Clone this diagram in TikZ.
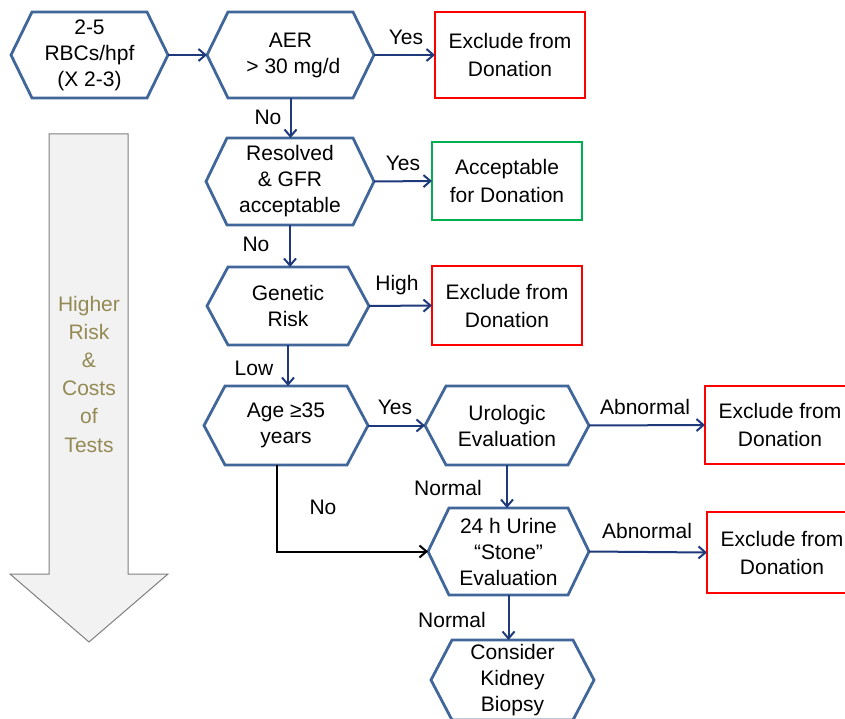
\documentclass[tikz,border=0pt]{standalone}
\usepackage{fontspec}
\setmainfont{Liberation Sans}
\usetikzlibrary{arrows.meta}
\definecolor{hexblue}{HTML}{41679A}
\definecolor{navy}{HTML}{1F3A7A}
\definecolor{boxred}{HTML}{FF0000}
\definecolor{boxgreen}{HTML}{00B050}
\definecolor{olive}{HTML}{948A54}
\definecolor{arrowfill}{HTML}{F2F2F2}
\definecolor{arrowgray}{HTML}{7F7F7F}
\newcommand\hexoutline[1]{%
  \draw[hexline] ([xshift=-21pt]#1.west) -- (#1.north west) -- (#1.north east)
    -- ([xshift=21pt]#1.east) -- (#1.south east) -- (#1.south west) -- cycle;
  \coordinate (#1-l) at ([xshift=-21pt]#1.west);
  \coordinate (#1-r) at ([xshift=21pt]#1.east);}
\tikzset{
  hexin/.style={inner sep=0pt, outer sep=0pt, align=center,
    font=\fontsize{21}{26}\selectfont},
  hexline/.style={draw=hexblue, line width=2.8pt, line join=miter},
  outbox/.style={draw=#1, line width=2.5pt, inner sep=0pt, outer sep=0pt,
    minimum width=150pt, align=center, font=\fontsize{21}{28}\selectfont},
  conn/.style={draw=navy, line width=2pt,
    -{Straight Barb[length=7pt,width=12pt]}},
  lbl/.style={inner sep=0pt, font=\fontsize{21}{26}\selectfont},
}
\begin{document}
\begin{tikzpicture}[x=1pt, y=-1pt]
\path[use as bounding box, clip] (0,0) rectangle (845,719);

% big gray arrow
\draw[fill=arrowfill, draw=arrowgray, line width=1pt]
  (49,134) -- (128,134) -- (128,574) -- (168,574) -- (89,642)
  -- (10,574) -- (49,574) -- cycle;
\node[inner sep=0pt, align=center, text=olive,
  font=\fontsize{21}{28.2}\selectfont] (risk) at (89,374)
  {Higher\\Risk\\\&\\Costs\\of\\Tests};

% hexagon nodes
\node[hexin, minimum width=115pt, minimum height=86pt] (rbc) at (89.5,55) {2-5\\RBCs/hpf\\(X 2-3)};
\hexoutline{rbc}
\node[hexin, minimum width=125pt, minimum height=86pt] (aer) at (290.5,55) {AER\\ \ > 30 mg/d};
\hexoutline{aer}
\node[hexin, minimum width=126pt, minimum height=87pt] (res) at (290,181.5) {Resolved\\\& GFR\\acceptable};
\hexoutline{res}
\node[hexin, minimum width=120pt, minimum height=78pt] (gen) at (288,306) {Genetic\\Risk};
\hexoutline{gen}
\node[hexin, minimum width=122pt, minimum height=79pt] (age) at (286,425.5) {Age ≥35\\years};
\hexoutline{age}
\node[hexin, minimum width=122pt, minimum height=79pt] (uro) at (507,425.5) {Urologic\\Evaluation};
\hexoutline{uro}
\node[hexin, minimum width=119pt, minimum height=87pt] (urine) at (508.5,551.5) {24 h Urine\\``Stone''\\Evaluation};
\hexoutline{urine}
\node[hexin, minimum width=121pt, minimum height=80pt] (bio) at (512.5,680) {Consider\\Kidney\\Biopsy};
\hexoutline{bio}

% outcome boxes
\node[outbox=boxred, minimum height=86pt] (ex1) at (510,55) {Exclude from\\Donation};
\node[outbox=boxgreen, minimum height=78pt] (ok) at (507,181) {Acceptable\\for Donation};
\node[outbox=boxred, minimum height=79pt] (ex2) at (507,305.5) {Exclude from\\Donation};
\node[outbox=boxred, minimum height=78pt] (ex3) at (780,425) {Exclude from\\Donation};
\node[outbox=boxred, minimum height=81pt] (ex4) at (782,552.5) {Exclude from\\Donation};

% connectors
\draw[conn] (rbc-r) -- (aer-l);
\draw[conn] (aer-r) -- (ex1.west);
\draw[conn] (aer.south) -- (aer.south |- res.north);
\draw[conn] (res-r) -- (ok.west);
\draw[conn] (res.south) -- (res.south |- gen.north);
\draw[conn] (gen-r) -- (ex2.west);
\draw[conn] (gen.south) -- (gen.south |- age.north);
\draw[conn] (age-r) -- (uro-l);
\draw[conn] (uro-r) -- (ex3.west);
\draw[conn] (uro.south) -- (uro.south |- urine.north);
\draw[conn] (urine-r) -- (ex4.west);
\draw[conn] (urine.south) -- (urine.south |- bio.north);
\coordinate (agebot) at ([xshift=-9pt]age.south);
\draw[conn, draw=black] (agebot) |- (urine-l);

% labels
\node[lbl] (l1) at (406,37) {Yes};
\node[lbl] (l2) at (268,117) {No};
\node[lbl] (l3) at (403,163) {Yes};
\node[lbl] (l4) at (256,244) {No};
\node[lbl] (l5) at (397,285) {High};
\node[lbl] (l6) at (254,368) {Low};
\node[lbl] (l7) at (395,407) {Yes};
\node[lbl] (l8) at (645,407) {Abnormal};
\node[lbl] (l9) at (448,488) {Normal};
\node[lbl] (l10) at (323,507) {No};
\node[lbl] (l11) at (647,531) {Abnormal};
\node[lbl] (l12) at (452,620) {Normal};
\end{tikzpicture}
\end{document}
